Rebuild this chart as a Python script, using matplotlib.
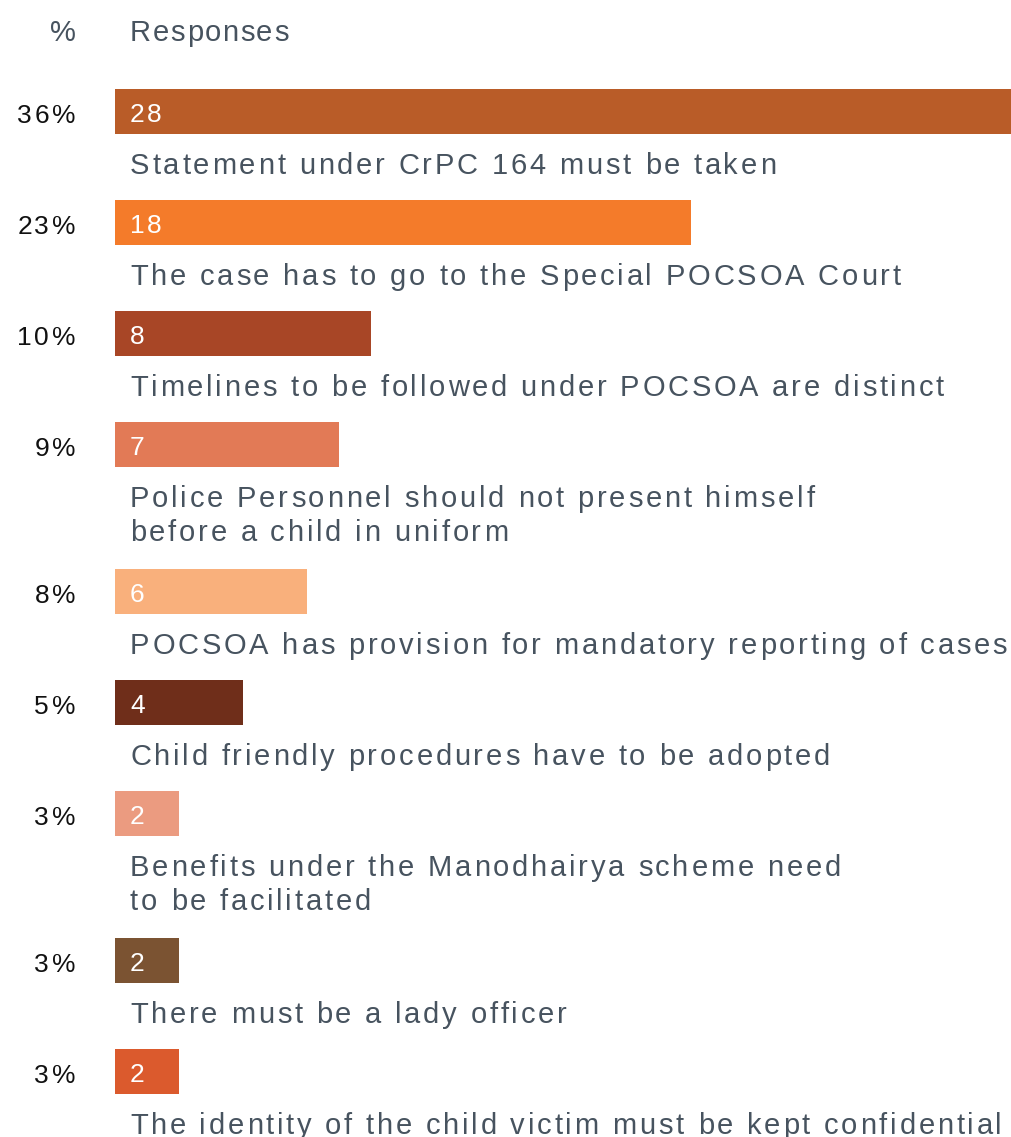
import matplotlib

matplotlib.use("Agg")
import matplotlib.pyplot as plt
from matplotlib.font_manager import FontProperties, findfont
from matplotlib.ft2font import FT2Font

W, H = 1011, 1137
FAMILY = "Liberation Sans"
INK = "#47535f"

pct = [36, 23, 10, 9, 8, 5, 3, 3, 3]
counts = [28, 18, 8, 7, 6, 4, 2, 2, 2]
labels = [
    "Statement under CrPC 164 must be taken",
    "The case has to go to the Special POCSOA Court",
    "Timelines to be followed under POCSOA are distinct",
    "Police Personnel should not present himself\nbefore a child in uniform",
    "POCSOA has provision for mandatory reporting of cases",
    "Child friendly procedures have to be adopted",
    "Benefits under the Manodhairya scheme need\nto be facilitated",
    "There must be a lady officer",
    "The identity of the child victim must be kept confidential",
]
colors = ["#b95c28", "#f47b2a", "#a84626", "#e27a56", "#f9b07c",
          "#6f2e1a", "#eb9b80", "#7b5332", "#db5a2d"]

_font = FT2Font(findfont(FontProperties(family=FAMILY)))


def tracked(ax, x, y, s, size, color, tracking, ha="left"):
    """Draw text with extra letter spacing (pixels), one glyph at a time."""
    _font.set_size(size, 100)
    adv = [_font.load_char(ord(c)).linearHoriAdvance / 65536 for c in s]
    total = sum(adv) + tracking * (len(s) - 1)
    if ha == "right":
        x -= total
    for c, a in zip(s, adv):
        ax.text(x, y, c, fontsize=size, family=FAMILY, color=color,
                va="baseline", ha="left")
        x += a + tracking


fig = plt.figure(figsize=(W / 100, H / 100), dpi=100)

# bar axes: x in response counts, y in pixels from the top
bax = fig.add_axes([115 / W, 0, (W - 115) / W, 1])
bax.set_xlim(0, max(counts))
bax.set_ylim(H, 0)
bax.axis("off")

# text layer in pixel coordinates
tax = fig.add_axes([0, 0, 1, 1])
tax.set_xlim(0, W)
tax.set_ylim(H, 0)
tax.axis("off")

bar_h = 45
tops = []
top = 89
for lab in labels:
    tops.append(top)
    top += 111 + 36 * lab.count("\n")

bax.barh([t + bar_h / 2 for t in tops], counts, height=bar_h, color=colors)

tracked(tax, 76, 41, "%", 21, INK, 1.5, ha="right")
tracked(tax, 130, 41, "Responses", 21, INK, 1.6)

for t, p, n, lab in zip(tops, pct, counts, labels):
    tracked(tax, 75, t + 34, f"{p}%", 19, "#111111", 2.5, ha="right")
    tracked(tax, 130, t + 33, str(n), 19, "white", 2.0)
    for k, line in enumerate(lab.split("\n")):
        tracked(tax, 130, t + 85 + 34 * k, line, 21, INK, 2.8)

fig.savefig("out.png", dpi=100)
